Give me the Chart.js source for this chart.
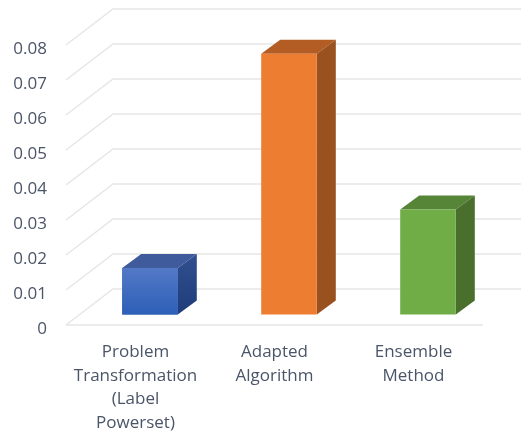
<!DOCTYPE html>
<html>
<head>
<meta charset="utf-8">
<title>Method comparison</title>
<script src="https://cdn.jsdelivr.net/npm/chart.js@4"></script>
<style>
  html, body { margin: 0; padding: 0; background: #fff; }
  canvas { display: block; }
</style>
</head>
<body>
<canvas id="barChart" width="521" height="434"></canvas>
<script>
const categories = [
  ['Problem', 'Transformation', '(Label', 'Powerset)'],
  ['Adapted', 'Algorithm'],
  ['Ensemble', 'Method']
];
const values = [0.0133, 0.0745, 0.03];

const frontColors = ['#3566bd', '#ed7d31', '#70ad47'];
const topColors = ['#3f5b9b', '#b35d24', '#568538'];
const sideColors = ['#294a8c', '#99521f', '#4a6f2d'];

const gridColor = '#e6e6e6';
const textColor = '#4a5568';

// the tick labels sit a little under their gridlines, so the scale runs
// labelDrop px lower than the drawn box
const labelDrop = 4;
// depth of the box: back wall offset and where the bars stand on the floor
const wallDx = 47, wallDy = -36;
const barDx = 14.5, barDy = -14.5;
const sideDx = 19, sideDy = -14;

// blue bar fades from lighter at the top to deeper at the bottom
function blueFade(ctx, y0, y1, from, to) {
  const g = ctx.createLinearGradient(0, y0, 0, y1);
  g.addColorStop(0, from);
  g.addColorStop(1, to);
  return g;
}

const fakeDepth = {
  id: 'fakeDepth',
  beforeDatasetsDraw(chart) {
    const { ctx, scales: { x, y }, width } = chart;
    ctx.save();
    ctx.strokeStyle = gridColor;
    ctx.lineWidth = 1.5;
    y.ticks.forEach(t => {
      const py = y.getPixelForValue(t.value) - labelDrop;
      ctx.beginPath();
      ctx.moveTo(x.left, py);
      ctx.lineTo(x.left + wallDx, py + wallDy);
      ctx.lineTo(width, py + wallDy);
      ctx.stroke();
    });
    // front edge of the floor
    const floor = y.getPixelForValue(0) - labelDrop;
    ctx.beginPath();
    ctx.moveTo(x.left, floor);
    ctx.lineTo(x.right, floor);
    ctx.stroke();
    ctx.restore();

    ctx.save();
    ctx.translate(barDx, barDy);
    chart.getDatasetMeta(0).data.forEach((bar, i) => {
      const left = bar.x - bar.width / 2;
      const right = bar.x + bar.width / 2;
      ctx.fillStyle = topColors[i];
      ctx.beginPath();
      ctx.moveTo(left, bar.y);
      ctx.lineTo(left + sideDx, bar.y + sideDy);
      ctx.lineTo(right + sideDx, bar.y + sideDy);
      ctx.lineTo(right, bar.y);
      ctx.closePath();
      ctx.fill();
      ctx.fillStyle = i === 0
        ? blueFade(ctx, bar.y + sideDy, bar.base, '#31508f', '#1f3c7a')
        : sideColors[i];
      ctx.beginPath();
      ctx.moveTo(right, bar.y);
      ctx.lineTo(right + sideDx, bar.y + sideDy);
      ctx.lineTo(right + sideDx, bar.base + sideDy);
      ctx.lineTo(right, bar.base);
      ctx.closePath();
      ctx.fill();
    });
    // stays translated for the bar fronts, undone in afterDatasetsDraw
  },
  afterDatasetsDraw(chart) {
    const { ctx } = chart;
    const blue = chart.getDatasetMeta(0).data[0];
    ctx.fillStyle = blueFade(ctx, blue.y, blue.base, '#5379c6', '#2d5fb7');
    ctx.fillRect(blue.x - blue.width / 2, blue.y, blue.width, blue.base - blue.y);
    ctx.restore();
  }
};

new Chart(document.getElementById('barChart'), {
  type: 'bar',
  data: {
    labels: categories,
    datasets: [{
      data: values,
      backgroundColor: frontColors,
      borderWidth: 0,
      barPercentage: 0.4,
      categoryPercentage: 1,
      clip: false
    }]
  },
  options: {
    responsive: false,
    animation: false,
    layout: { padding: { top: 49, right: 38, left: 0, bottom: 0 } },
    plugins: { legend: { display: false }, tooltip: { enabled: false } },
    scales: {
      x: {
        grid: { display: false },
        border: { display: false },
        afterFit: scale => { scale.height = 105; },
        ticks: {
          color: textColor,
          font: { family: '"Open Sans"', size: 17, lineHeight: 1.4 },
          padding: 3,
          maxRotation: 0,
          autoSkip: false
        }
      },
      y: {
        min: 0,
        max: 0.08,
        grid: { display: false },
        border: { display: false },
        afterFit: scale => { scale.width = 66; },
        ticks: {
          stepSize: 0.01,
          color: textColor,
          font: { family: '"Open Sans"', size: 17 },
          padding: 11,
          callback: v => (v === 0 ? '0' : v.toFixed(2))
        }
      }
    }
  },
  plugins: [fakeDepth]
});
</script>
</body>
</html>
